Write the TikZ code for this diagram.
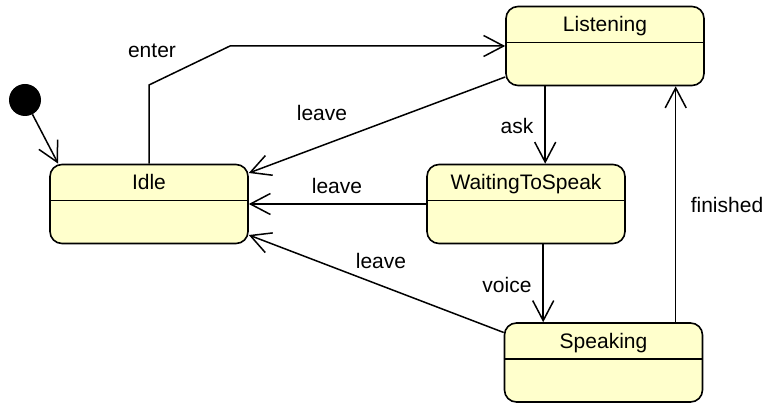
\documentclass[tikz,border=0pt]{standalone}
\usepackage{fontspec}
\setmainfont{Liberation Sans}
\usetikzlibrary{arrows.meta,calc}
\definecolor{statefill}{RGB}{255,255,204}
\tikzset{
  state/.style={draw=black, fill=statefill, line width=1.6pt, rounded corners=12pt,
    minimum width=198pt, minimum height=79pt, inner sep=0pt},
  title/.style={inner sep=0pt, font=\fontsize{21}{24}\selectfont, anchor=base},
  lbl/.style={inner sep=0pt, font=\fontsize{21}{24}\selectfont},
  divider/.style={line width=1.6pt},
  arr/.style={line width=1.5pt, -{Straight Barb[length=20pt, width=21pt, line width=1.5pt]}},
}
\begin{document}
\begin{tikzpicture}[x=1pt, y=-1pt]
\useasboundingbox (0,0) rectangle (765,403);
% states
\node[state] (idle) at (149,204) {};
\node[state] (listen) at (605,46) {};
\node[state] (wait) at (526,204) {};
\node[state] (speak) at (603.5,362.5) {};
\foreach \n/\t in {idle/Idle, listen/Listening, wait/WaitingToSpeak, speak/Speaking}{
  \draw[divider] ($(\n.north west)+(0,37)$) -- ($(\n.north east)+(0,37)$);
  \node[title] (\n-title) at ($(\n.north)+(0,26)$) {\t};
}
% initial
\node[circle, fill=black, minimum size=32pt, inner sep=0pt] (init) at (25,100) {};
\coordinate (initend) at ($(idle.north west)+(9,0)$);
\draw[arr] (init) -- (initend);
% enter
\coordinate (e1) at (149,85);
\coordinate (e2) at (230,46);
\draw[arr] (idle.north) -- (e1) -- (e2) -- (listen.west);
% leaves
\draw[arr] ($(listen.west)+(0,31)$) -- ($(idle.east)+(0,-31)$);
\draw[arr] (wait.west) -- (idle.east);
\draw[arr] ($(speak.west)+(0,-30)$) -- ($(idle.east)+(0,31)$);
% ask
\coordinate (askS) at ($(listen.south west)+(40,0)$);
\draw[arr] (askS) -- (askS |- wait.north);
% voice
\coordinate (voiceS) at ($(wait.south west)+(117,0)$);
\draw[arr] (voiceS) -- (voiceS |- speak.north);
% finished
\coordinate (finS) at ($(speak.north west)+(172,0)$);
\draw[arr] (finS) -- (finS |- listen.south);
% labels
\node[lbl] (l-enter) at (152,51) {enter};
\node[lbl] (l-leave1) at (322,113) {leave};
\node[lbl] (l-leave2) at (337,186) {leave};
\node[lbl] (l-leave3) at (381,261) {leave};
\node[lbl] (l-ask) at (517,126) {ask};
\node[lbl] (l-voice) at (507,285) {voice};
\node[lbl] (l-fin) at (727,205) {finished};
\end{tikzpicture}
\end{document}
